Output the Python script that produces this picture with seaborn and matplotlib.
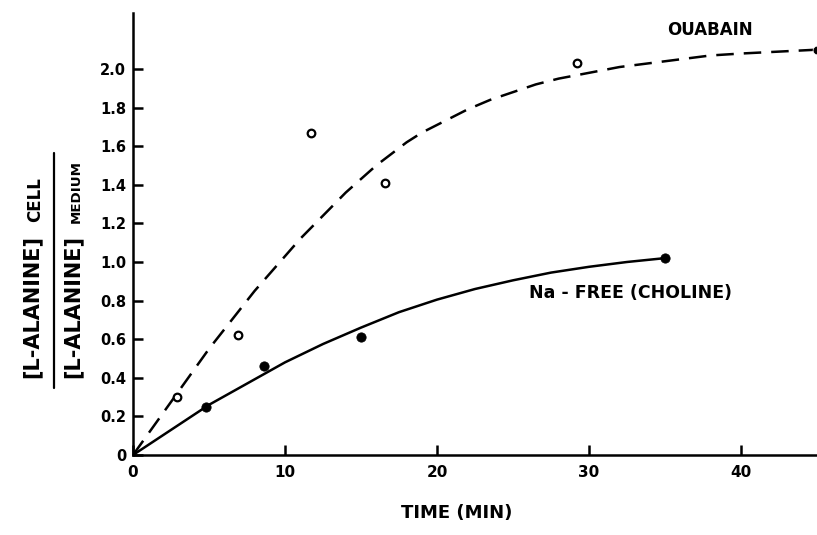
"""L-alanine cell/medium ratio over time: ouabain vs Na-free (choline)."""

import matplotlib

matplotlib.use("Agg")
import matplotlib.pyplot as plt
import pandas as pd
import seaborn as sns

# measured points, ouabain (open circles)
OUABAIN_T = [2.9, 6.9, 11.7, 16.6, 29.2]
OUABAIN_RATIO = [0.30, 0.62, 1.67, 1.41, 2.03]

# measured points, Na-free / choline (filled circles)
CHOLINE_T = [4.8, 8.6, 15.0, 35.0]
CHOLINE_RATIO = [0.25, 0.46, 0.61, 1.02]

# hand-drawn curves
OUABAIN_CURVE_T = [0, 1, 2, 3, 4, 5, 6, 7, 8, 9, 10, 11, 12, 13, 14, 15, 16, 17, 18,
                   19, 20, 21, 22, 23.5, 25, 26.5, 28, 30, 32, 34, 36, 38, 40, 42.5, 45]
OUABAIN_CURVE_Y = [0, 0.11, 0.22, 0.33, 0.44, 0.55, 0.65, 0.75, 0.85, 0.94, 1.03,
                   1.12, 1.20, 1.28, 1.36, 1.43, 1.50, 1.56, 1.62, 1.67, 1.71, 1.75,
                   1.79, 1.84, 1.88, 1.92, 1.95, 1.98, 2.01, 2.03, 2.05, 2.07, 2.08,
                   2.09, 2.10]
CHOLINE_CURVE_T = [0, 2.5, 5, 7.5, 10, 12.5, 15, 17.5, 20, 22.5, 25, 27.5, 30, 32.5, 35]
CHOLINE_CURVE_Y = [0, 0.13, 0.26, 0.37, 0.48, 0.575, 0.66, 0.74, 0.805, 0.86, 0.905,
                   0.945, 0.975, 1.0, 1.02]

X_TICKS = [0, 10, 20, 30, 40]
Y_TICKS = [0, 0.2, 0.4, 0.6, 0.8, 1.0, 1.2, 1.4, 1.6, 1.8, 2.0]
Y_TICK_LABELS = ["0", "0.2", "0.4", "0.6", "0.8", "1.0", "1.2", "1.4", "1.6", "1.8", "2.0"]

sns.set_style("ticks")
plt.rcParams["font.family"] = ["DejaVu Sans"]
plt.rcParams["font.weight"] = "bold"
plt.rcParams["text.color"] = "black"
plt.rcParams["axes.labelcolor"] = "black"

W, H = 817, 535
fig = plt.figure(figsize=(W / 100, H / 100), dpi=100)
ax = fig.add_axes([133 / W, 1 - 455 / H, 1 - 133 / W, (455 - 13) / H])

ouabain_curve = pd.DataFrame({"t": OUABAIN_CURVE_T, "y": OUABAIN_CURVE_Y})
choline_curve = pd.DataFrame({"t": CHOLINE_CURVE_T, "y": CHOLINE_CURVE_Y})

sns.lineplot(data=ouabain_curve, x="t", y="y", color="black", lw=1.8,
             sort=False, ax=ax, linestyle=(0, (7, 4)))
sns.lineplot(data=choline_curve, x="t", y="y", color="black", lw=1.8,
             sort=False, ax=ax)

sns.scatterplot(x=OUABAIN_T, y=OUABAIN_RATIO, marker="o", s=30,
                facecolor="white", edgecolor="black", linewidth=1.6, ax=ax, zorder=3)
sns.scatterplot(x=CHOLINE_T, y=CHOLINE_RATIO, marker="o", s=45,
                color="black", edgecolor="black", ax=ax, zorder=3)
# blob at the end of the ouabain curve
sns.scatterplot(x=OUABAIN_CURVE_T[-1:], y=OUABAIN_CURVE_Y[-1:], marker="o", s=40,
                color="black", ax=ax, zorder=3)

ax.set_xlim(0, 45)
ax.set_ylim(0, 2.29)
ax.set_xticks(X_TICKS)
ax.set_yticks(Y_TICKS)
ax.set_yticklabels(Y_TICK_LABELS)
ax.tick_params(axis="both", direction="in", length=7, width=1.8, colors="black")
ax.tick_params(axis="y", pad=5, labelsize=10.5)
ax.tick_params(axis="x", pad=7, labelsize=11)
for side in ("top", "right"):
    ax.spines[side].set_visible(False)
for side in ("left", "bottom"):
    ax.spines[side].set_linewidth(1.8)
    ax.spines[side].set_color("black")

ax.set_xlabel("TIME (MIN)", fontsize=13, fontweight="bold")
ax.xaxis.set_label_coords((457 - 133) / (W - 133), -(504 - 455) / (455 - 13))
ax.set_ylabel("")

ax.text(40.8, 2.20, "OUABAIN", ha="right", va="center", fontsize=12, fontweight="bold")
ax.text(39.4, 0.84, "Na - FREE (CHOLINE)", ha="right", va="center",
        fontsize=12.5, fontweight="bold")

# stacked y-axis label: [L-ALANINE]cell / [L-ALANINE]medium
fig.text(32 / W, 1 - 307 / H, "[L-ALANINE]", rotation=90, ha="center", va="center",
         fontsize=15, fontweight="bold")
fig.text(35 / W, 1 - 200 / H, "CELL", rotation=90, ha="center", va="center",
         fontsize=12, fontweight="bold")
fig.text(73 / W, 1 - 307 / H, "[L-ALANINE]", rotation=90, ha="center", va="center",
         fontsize=15, fontweight="bold")
fig.text(76 / W, 1 - 191 / H, "MEDIUM", rotation=90, ha="center", va="center",
         fontsize=9.6, fontweight="bold")
fig.add_artist(plt.Line2D([54 / W, 54 / W], [1 - 153 / H, 1 - 388 / H],
                          color="black", lw=1.6, transform=fig.transFigure))

fig.savefig("out.png", dpi=100, facecolor="white")
plt.close(fig)
